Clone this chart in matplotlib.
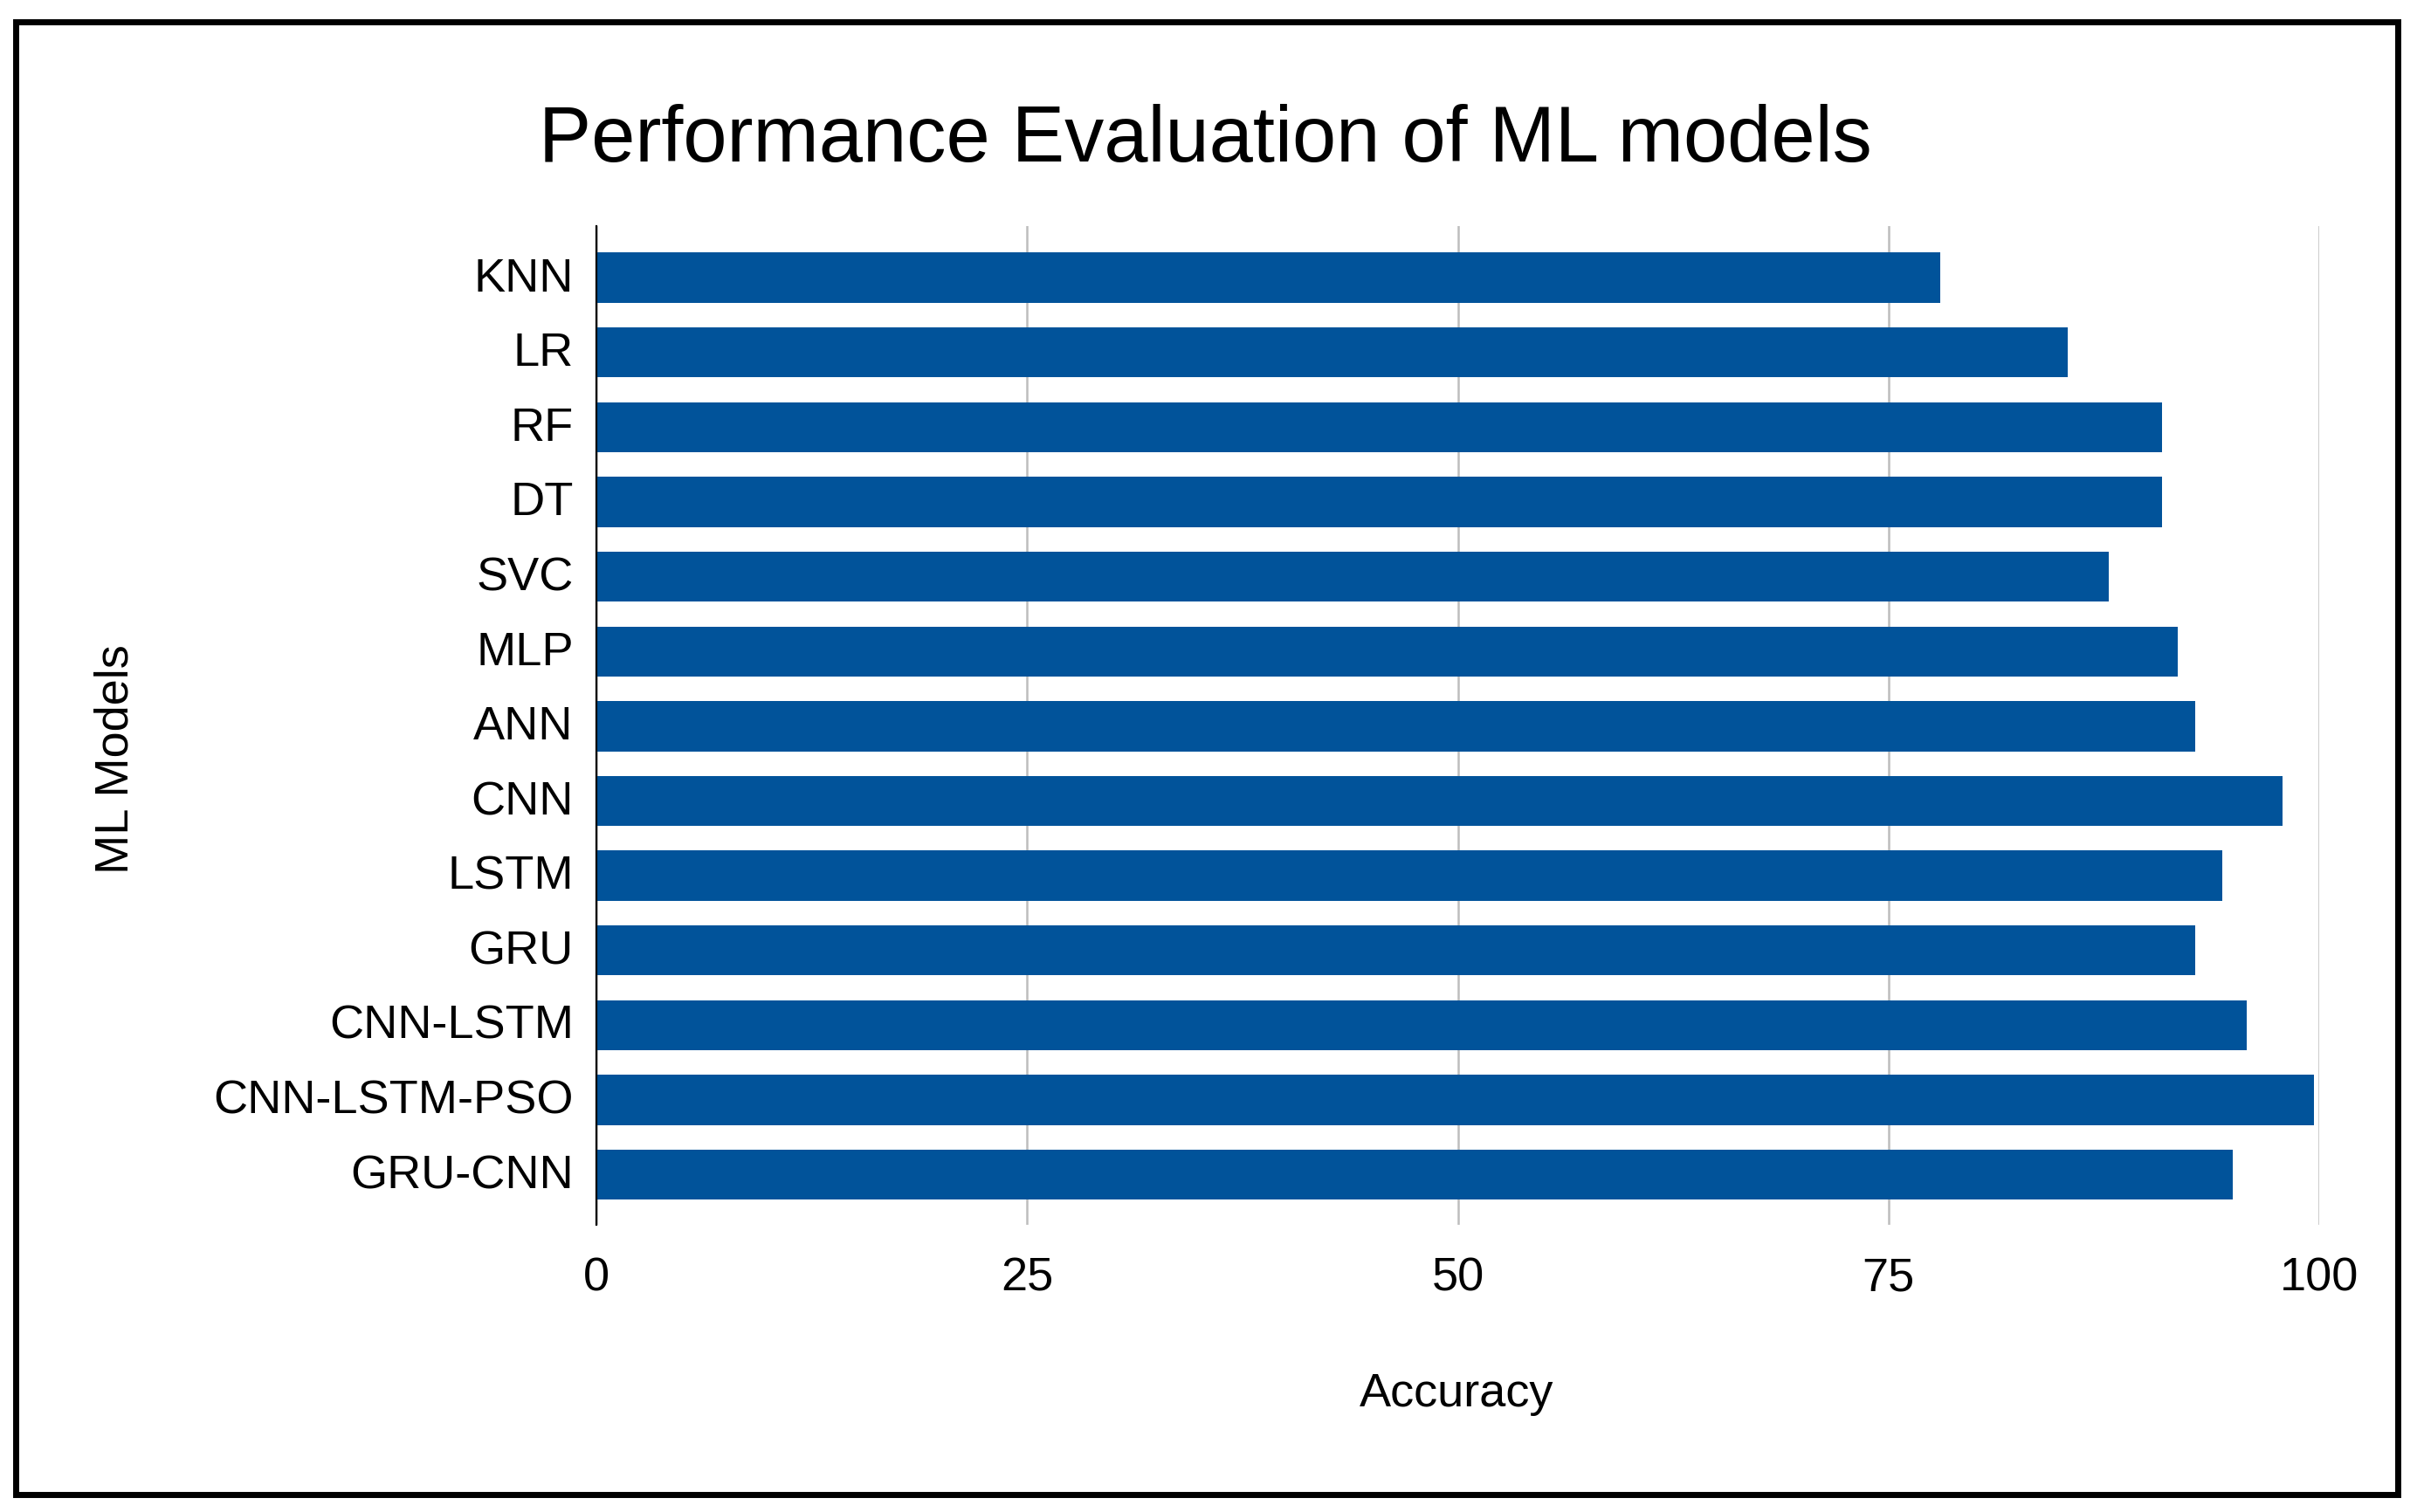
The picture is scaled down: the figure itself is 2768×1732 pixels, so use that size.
import numpy as np
import matplotlib.pyplot as plt
import matplotlib.transforms as mtransforms
from matplotlib.patches import Rectangle

plt.rcParams["font.family"] = ["Liberation Sans", "DejaVu Sans"]

models = ["KNN", "LR", "RF", "DT", "SVC", "MLP", "ANN", "CNN", "LSTM", "GRU",
          "CNN-LSTM", "CNN-LSTM-PSO", "GRU-CNN"]
accuracy = [78.0, 85.4, 90.9, 90.9, 87.8, 91.8, 92.8, 97.9, 94.4, 92.8, 95.8, 99.7, 95.0]
xticks = [0, 25, 50, 75, 100]

fig = plt.figure(figsize = (27.68, 17.32), dpi = 100)
ax = fig.add_axes([0.2468, 0.1899, 0.9595 - 0.2468, 0.8505 - 0.1899])

y = np.arange(len(models))
ax.barh(y, accuracy, height = 0.67, color = "#01539A", zorder = 3)

ax.set_xlim(0, 100)
ax.set_ylim(12.67, -0.69)
ax.set_xticks(xticks)
ax.set_xticklabels([str(t) for t in xticks])
ax.set_yticks(y)
ax.set_yticklabels(models)
ax.tick_params(axis = "both", length = 0, labelsize = 39)
ax.tick_params(axis = "x", pad = 26)
ax.tick_params(axis = "y", pad = 19)

# nudge the model names up a little
shift = mtransforms.ScaledTranslation(0, 4 / 100, fig.dpi_scale_trans)
for lbl in ax.get_yticklabels():
    lbl.set_transform(lbl.get_transform() + shift)

ax.grid(axis = "x", color = "#BDBDBD", linewidth = 1.8, zorder = 0)
for s in ["top", "right", "bottom"]:
    ax.spines[s].set_visible(False)
ax.spines["left"].set_linewidth(1.6)
ax.spines["left"].set_color("black")
ax.spines["left"].set_zorder(4)

fig.text(0.4986, 0.893, "Performance Evaluation of ML models", fontsize = 65,
         ha = "center", va = "baseline")
fig.text(0.6026, 0.070, "Accuracy", fontsize = 39, ha = "center", va = "baseline")
fig.text(0.0477, 0.4977, "ML Models", fontsize = 39, ha = "center", va = "center",
         rotation = 90)

# frame around the whole picture
fig.patches.append(Rectangle((18 / 2768, 1 - 1712 / 1732), (2746 - 18) / 2768,
                             (1712 - 25) / 1732, transform = fig.transFigure,
                             fill = False, edgecolor = "black", linewidth = 5))

plt.savefig("out.png", dpi = 100)
plt.close()
